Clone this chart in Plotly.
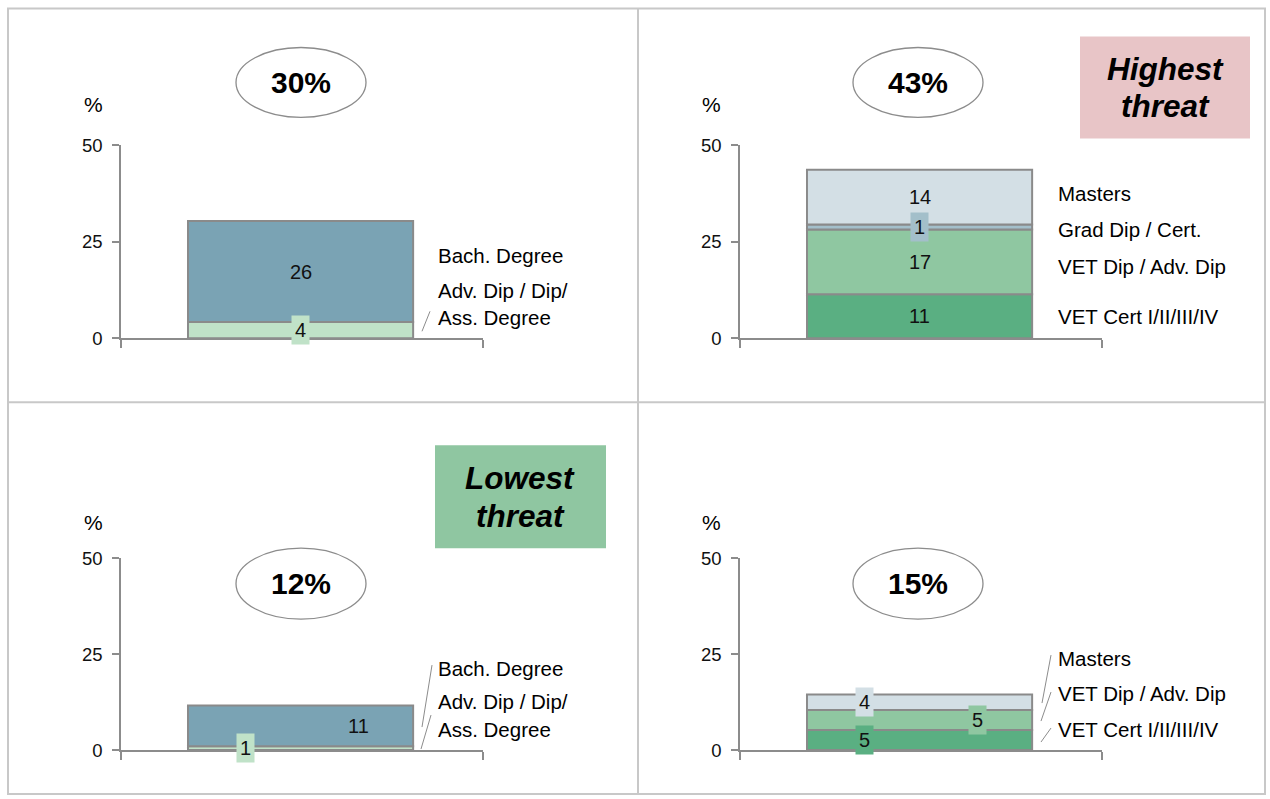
import plotly.graph_objects as go

W, H = 1270, 799

# ---------------- data ----------------
tl_series = ["Adv. Dip / Dip/ Ass. Degree", "Bach. Degree"]
tl_values = [4.2, 26.2]
tl_total = "30%"

tr_series = ["VET Cert I/II/III/IV", "VET Dip / Adv. Dip", "Grad Dip / Cert.", "Masters"]
tr_values = [11.4, 16.8, 1.3, 14.2]
tr_total = "43%"

bl_series = ["Adv. Dip / Dip/ Ass. Degree", "Bach. Degree"]
bl_values = [1.0, 10.6]
bl_total = "12%"

br_series = ["VET Cert I/II/III/IV", "VET Dip / Adv. Dip", "Masters"]
br_values = [5.2, 5.2, 4.1]
br_total = "15%"

y_ticks = [0, 25, 50]

colors = {
    "Adv. Dip / Dip/ Ass. Degree": "#c0e2c8",
    "Bach. Degree": "#7aa3b4",
    "VET Cert I/II/III/IV": "#5aaf82",
    "VET Dip / Adv. Dip": "#8fc7a1",
    "Grad Dip / Cert.": "#a3bfca",
    "Masters": "#d3dfe5",
}

FONT = "Liberation Sans, Arial, sans-serif"

# page-pixel -> paper coordinate helpers
Y_OFF, Y_SPAN = 10.5, 778.5

def px(x):
    return x / W

def py(y):
    return 1 - (y - Y_OFF) / Y_SPAN

# panel geometry in pixels: (x_left, x_right, y_zero, y_fifty)
panels = [
    dict(series=tl_series, values=tl_values, total=tl_total, ax=(121, 483, 338, 145),
         label_x=[0.496, 0.496], label_bg=[True, False], ell=(236, 366, 47, 117), pct=(93, 104)),
    dict(series=tr_series, values=tr_values, total=tr_total, ax=(740, 1102, 338, 145),
         label_x=[0.496, 0.496, 0.496, 0.496], label_bg=[False, False, True, False], ell=(853, 983, 47, 117), pct=(711, 104)),
    dict(series=bl_series, values=bl_values, total=bl_total, ax=(121, 483, 750, 558),
         label_x=[0.343, 0.655], label_bg=[True, False], ell=(236, 366, 548, 619), pct=(93, 522)),
    dict(series=br_series, values=br_values, total=br_total, ax=(740, 1102, 750, 558),
         label_x=[0.345, 0.655, 0.345], label_bg=[True, True, True], ell=(853, 983, 548, 619), pct=(711, 522)),
]

fig = go.Figure()
annotations = []
shapes = []
layout = {}

def add_text(x, y, text, size, xanchor="center", bold=False, italic=False):
    if italic:
        text = f"<i>{text}</i>"
    if bold:
        text = f"<b>{text}</b>"
    annotations.append(dict(x=px(x), y=py(y), xref="paper", yref="paper", text=text, showarrow=False,
                            xanchor=xanchor, yanchor="middle",
                            font=dict(family=FONT, size=size, color="#000")))

for i, p in enumerate(panels):
    n = i + 1
    xa = "x" if n == 1 else f"x{n}"
    ya = "y" if n == 1 else f"y{n}"
    x0, x1, y0, y50 = p["ax"]
    layout["xaxis" if n == 1 else f"xaxis{n}"] = dict(
        domain=[px(x0), px(x1)], range=[0, 1], anchor=ya,
        showgrid=False, zeroline=False, showline=True, linecolor="#8c8c8c", linewidth=1.5,
        tickvals=[0, 1], ticks="outside", ticklen=8, tickcolor="#8c8c8c", tickwidth=1.5,
        showticklabels=False, fixedrange=True,
    )
    layout["yaxis" if n == 1 else f"yaxis{n}"] = dict(
        domain=[py(y0), py(y50)], range=[0, 50], anchor=xa,
        showgrid=False, zeroline=False, showline=True, linecolor="#8c8c8c", linewidth=1.5,
        tickvals=y_ticks, ticks="outside", ticklen=7, tickcolor="#8c8c8c", tickwidth=1.5,
        ticklabelstandoff=6,
        tickfont=dict(family=FONT, size=18.5, color="#111"), fixedrange=True,
    )
    base = 0
    for j, (s, v) in enumerate(zip(p["series"], p["values"])):
        fig.add_trace(go.Bar(
            x=[0.496], y=[v], width=[0.622], base=[base], xaxis=xa, yaxis=ya,
            marker=dict(color=colors[s], line=dict(color="#8a8a8a", width=2)),
            name=s, showlegend=False, hoverinfo="skip",
        ))
        annotations.append(dict(
            x=p["label_x"][j], y=base + v / 2, xref=xa, yref=ya,
            text=f"{round(v)}", showarrow=False, xanchor="center", yanchor="middle",
            font=dict(family=FONT, size=20, color="#111"),
            bgcolor=colors[s] if p["label_bg"][j] else "rgba(0,0,0,0)", borderpad=3,
        ))
        base += v
    # ellipse with total
    ex0, ex1, ey0, ey1 = p["ell"]
    shapes.append(dict(type="circle", xref="paper", yref="paper",
                       x0=px(ex0), x1=px(ex1), y0=py(ey1), y1=py(ey0),
                       line=dict(color="#8c8c8c", width=1.3), fillcolor="white", layer="above"))
    add_text((ex0 + ex1) / 2, (ey0 + ey1) / 2, p["total"], 30, bold=True)
    add_text(p["pct"][0], p["pct"][1], "%", 21)

# category labels at right of bars (pixel positions)
cat_labels = [
    (436, 255, "Bach. Degree"), (436, 290, "Adv. Dip / Dip/"), (436, 317, "Ass. Degree"),
    (1056, 193, "Masters"), (1056, 229, "Grad Dip / Cert."), (1056, 266, "VET Dip / Adv. Dip"), (1056, 316, "VET Cert I/II/III/IV"),
    (436, 668, "Bach. Degree"), (436, 701, "Adv. Dip / Dip/"), (436, 729, "Ass. Degree"),
    (1056, 658, "Masters"), (1056, 693, "VET Dip / Adv. Dip"), (1056, 729, "VET Cert I/II/III/IV"),
]
for x, y, t in cat_labels:
    add_text(x, y, t, 20.5, xanchor="left")

# leader lines
leaders = [
    (430, 311, 422, 331),
    (432, 665, 422, 727), (431, 715, 421, 749),
    (1051, 655, 1042, 703), (1051, 692, 1041, 721), (1051, 728, 1041, 742),
]
for a, b, c, d in leaders:
    shapes.append(dict(type="line", xref="paper", yref="paper", x0=px(a), y0=py(b), x1=px(c), y1=py(d),
                       line=dict(color="#8c8c8c", width=1)))

# threat boxes
shapes.append(dict(type="rect", xref="paper", yref="paper", x0=px(1080), x1=px(1250), y0=py(138), y1=py(36),
                   fillcolor="#e8c5c7", line=dict(width=0), layer="below"))
add_text(1165, 69, "Highest", 31.5, bold=True, italic=True)
add_text(1165, 106, "threat", 31.5, bold=True, italic=True)
shapes.append(dict(type="rect", xref="paper", yref="paper", x0=px(435), x1=px(606), y0=py(548), y1=py(445),
                   fillcolor="#8fc6a1", line=dict(width=0), layer="below"))
add_text(520, 478, "Lowest", 31.5, bold=True, italic=True)
add_text(520, 516, "threat", 31.5, bold=True, italic=True)

# panel borders
bc = dict(color="#c8c8c8", width=2)
shapes.append(dict(type="rect", xref="paper", yref="paper", x0=px(8), x1=px(1265), y0=py(794), y1=py(8),
                   line=bc, layer="below"))
shapes.append(dict(type="line", xref="paper", yref="paper", x0=px(638), x1=px(638), y0=py(794), y1=py(8), line=bc, layer="below"))
shapes.append(dict(type="line", xref="paper", yref="paper", x0=px(8), x1=px(1265), y0=py(402), y1=py(402), line=bc, layer="below"))

fig.update_layout(
    width=W, height=H, margin=dict(l=0, r=0, t=0, b=0),
    paper_bgcolor="white", plot_bgcolor="rgba(0,0,0,0)",
    barmode="overlay", showlegend=False,
    annotations=annotations, shapes=shapes,
    font=dict(family=FONT), **layout,
)

fig.write_html("out.html", config={"displayModeBar": False})
